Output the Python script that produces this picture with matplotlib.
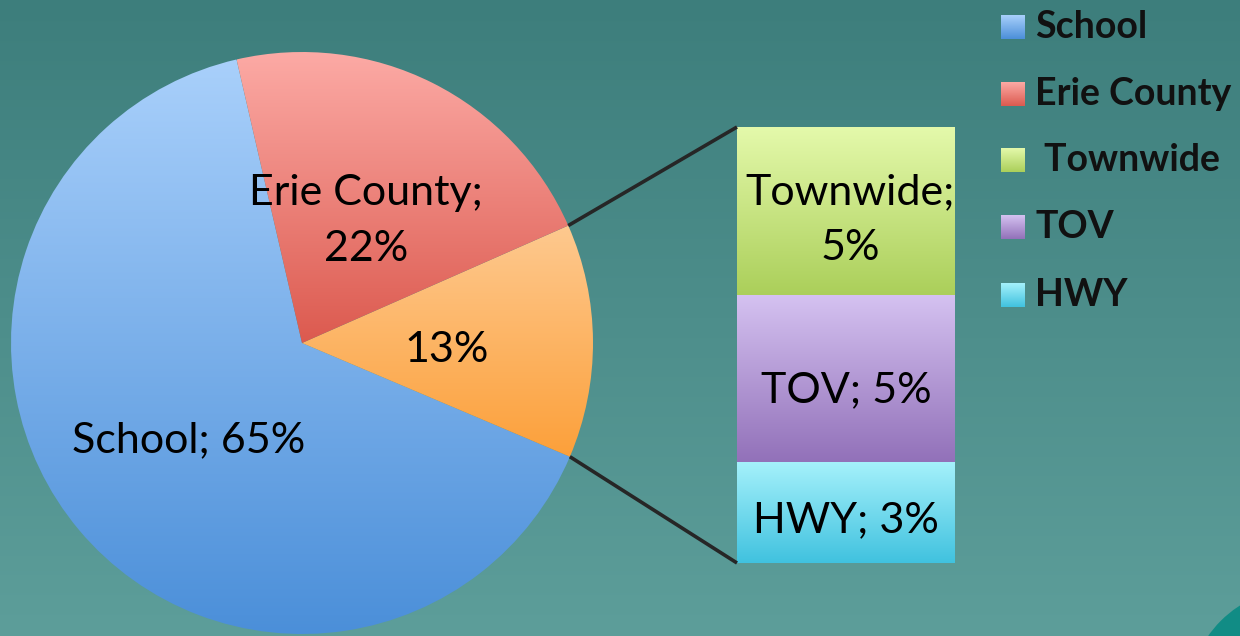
import numpy as np
import matplotlib
matplotlib.use("Agg")
import matplotlib.pyplot as plt
from matplotlib.colors import to_rgb
from matplotlib.patches import Rectangle, Circle

plt.rcParams['font.family'] = ['Lato', 'DejaVu Sans']

# data (percent)
pie_labels = ['School', 'Erie County', 'Other']
pie_values = [65, 22, 13]
bar_labels = ['Townwide', 'TOV', 'HWY']
bar_values = [5, 5, 3]

# gradient colours (top, bottom)
pie_colors = {'School': ('#a9d0fb', '#4b8fd9'),
              'Erie County': ('#fcaaa5', '#dc5a4f'),
              'Other': ('#fec98f', '#fca03a')}
bar_colors = {'Townwide': ('#e4f9ab', '#abcf5a'),
              'TOV': ('#d5c2f1', '#9271b9'),
              'HWY': ('#a5f1fb', '#40c2df')}
legend_names = ['School', 'Erie County', ' Townwide', 'TOV', 'HWY']
legend_cols = [pie_colors['School'], pie_colors['Erie County'], bar_colors['Townwide'],
               bar_colors['TOV'], bar_colors['HWY']]


def grad(ax, patch, top, bottom, zorder=2):
    ext = patch.get_path().transformed(patch.get_patch_transform()).get_extents()
    c1, c2 = np.array(to_rgb(top)), np.array(to_rgb(bottom))
    t = np.linspace(0, 1, 256)[:, None, None]
    img = c1 * (1 - t) + c2 * t
    img = np.repeat(img, 2, axis=1)
    im = ax.imshow(img, extent=(ext.x0, ext.x1, ext.y0, ext.y1), aspect='auto',
                   interpolation='bicubic', zorder=zorder)
    im.set_clip_path(patch)
    patch.set_alpha(0)


W, H = 1240, 636
fig = plt.figure(figsize=(W / 100, H / 100), dpi=100)
ax = fig.add_axes([0, 0, 1, 1])

# background
t = np.linspace(0, 1, 256)[:, None, None]
bg = np.array(to_rgb('#3d7e7c')) * (1 - t) + np.array(to_rgb('#5d9e9a')) * t
ax.imshow(np.repeat(bg, 2, axis=1), extent=(0, W, 0, H), aspect='auto',
          interpolation='bicubic', zorder=0)
# little slide decoration in the corner
ax.add_patch(Circle((1300, H - 700), 112, color='#118c85', lw=0, zorder=1))

cx, cy, r = 302, H - 343, 291
order = ['School', 'Other', 'Erie County']
vals = [pie_values[pie_labels.index(k)] for k in order]
wedges, _ = ax.pie(vals, center=(cx, cy), radius=r, startangle=103,
                   counterclock=True, frame=True,
                   wedgeprops=dict(linewidth=0))
for w, k in zip(wedges, order):
    grad(ax, w, *pie_colors[k])

# bar of the "Other" slice
bx0, bx1 = 737, 955
btop, bbot = H - 127, H - 563
scale = (btop - bbot) / sum(bar_values)
bottom = bbot
for k, v in zip(bar_labels[::-1], bar_values[::-1]):
    rect = ax.bar((bx0 + bx1) / 2, v * scale, width=bx1 - bx0, bottom=bottom,
                  linewidth=0, zorder=2)[0]
    grad(ax, rect, *bar_colors[k])
    bottom += v * scale

# connector lines
ow = wedges[1]
for ang, yb in [(ow.theta2, btop), (ow.theta1, bbot)]:
    px = cx + r * np.cos(np.radians(ang))
    py = cy + r * np.sin(np.radians(ang))
    ax.plot([px, bx0], [py, yb], color='#262626', lw=2.6, zorder=3,
            solid_capstyle='butt')

# labels
fs = 31
ax.text(366, H - 221, 'Erie County;\n22%', ha='center', va='center',
        fontsize=fs, linespacing=1.55, zorder=4)
ax.text(447, H - 350, '13%', ha='center', va='center', fontsize=fs, zorder=4)
ax.text(189, H - 440, 'School; 65%', ha='center', va='center', fontsize=fs, zorder=4)
ax.text(850, H - 220, 'Townwide;\n5%', ha='center', va='center',
        fontsize=fs, linespacing=1.55, zorder=4)
ax.text(846, H - 390, 'TOV; 5%', ha='center', va='center', fontsize=fs, zorder=4)
ax.text(846, H - 520, 'HWY; 3%', ha='center', va='center', fontsize=fs, zorder=4)

# legend
leg_y = [27, 94, 160, 227, 295]
for name, c, y in zip(legend_names, legend_cols, leg_y):
    sq = Rectangle((1001, H - y - 12), 24, 24, lw=0, zorder=4)
    ax.add_patch(sq)
    grad(ax, sq, *c, zorder=4)
    ax.text(1035, H - y, name, ha='left', va='center', fontsize=27,
            fontweight='bold', color='#111111', zorder=4)

ax.set_xlim(0, W)
ax.set_ylim(0, H)
ax.set_axis_off()
fig.savefig('out.png', dpi=100)
